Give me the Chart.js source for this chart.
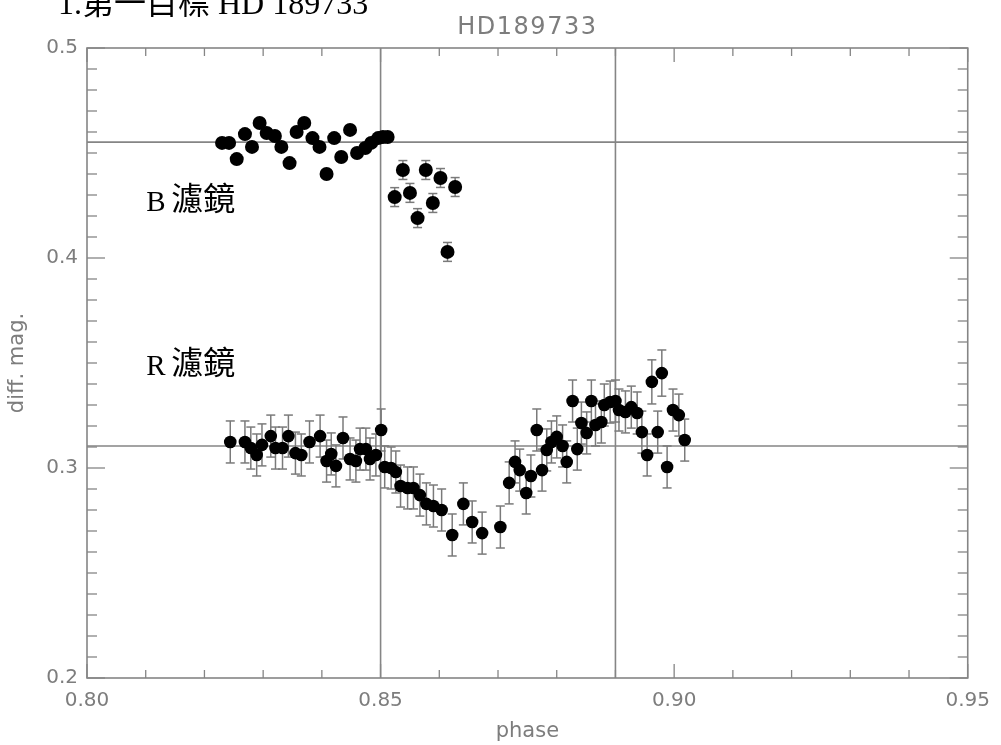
<!DOCTYPE html>
<html>
<head>
<meta charset="utf-8">
<title>HD189733</title>
<script src="https://cdn.jsdelivr.net/npm/chart.js@4/dist/chart.umd.min.js"></script>
<style>
  html, body { margin:0; padding:0; background:#fff; }
  #wrap { position:relative; width:1001px; height:745px; }
</style>
</head>
<body>
<div id="wrap"><canvas id="lc" width="1001" height="745"></canvas></div>
<script>
// B filter light curve
const bPhase = [0.8230, 0.8242, 0.8255, 0.8269, 0.8281, 0.8294, 0.8306, 0.8320, 0.8331, 0.8345,
  0.8357, 0.8370, 0.8384, 0.8396, 0.8408, 0.8421, 0.8433, 0.8448, 0.8460, 0.8474,
  0.8484, 0.8496, 0.8504, 0.8512, 0.8524, 0.8538, 0.8550, 0.8563, 0.8577, 0.8589,
  0.8602, 0.8614, 0.8627];
const bMag = [0.4548, 0.4548, 0.4471, 0.4590, 0.4529, 0.4643, 0.4595, 0.4581, 0.4529, 0.4452,
  0.4600, 0.4643, 0.4571, 0.4529, 0.4400, 0.4571, 0.4481, 0.4610, 0.4500, 0.4524,
  0.4548, 0.4571, 0.4576, 0.4576, 0.4290, 0.4419, 0.4310, 0.4190, 0.4419, 0.4262,
  0.4381, 0.4029, 0.4338];
const bErr = [0.002, 0.002, 0.002, 0.002, 0.002, 0.002, 0.002, 0.002, 0.002, 0.002,
  0.002, 0.002, 0.002, 0.002, 0.002, 0.002, 0.002, 0.002, 0.002, 0.002,
  0.002, 0.002, 0.002, 0.002, 0.0045, 0.0045, 0.0045, 0.0045, 0.0045, 0.0045,
  0.0045, 0.0045, 0.0045];

// R filter light curve
const rPhase = [0.8244, 0.8269, 0.8279, 0.8289, 0.8298, 0.8313, 0.8321, 0.8333, 0.8343, 0.8355,
  0.8365, 0.8379, 0.8397, 0.8408, 0.8416, 0.8424, 0.8436, 0.8448, 0.8458, 0.8465,
  0.8475, 0.8482, 0.8492, 0.8501, 0.8507, 0.8518, 0.8526, 0.8534, 0.8546, 0.8556,
  0.8567, 0.8578, 0.8590, 0.8604, 0.8622, 0.8641, 0.8656, 0.8673, 0.8704, 0.8719,
  0.8729, 0.8737, 0.8748, 0.8756, 0.8766, 0.8775, 0.8783, 0.8791, 0.8800, 0.8810,
  0.8817, 0.8827, 0.8835, 0.8842, 0.8851, 0.8859, 0.8866, 0.8876, 0.8881, 0.8891,
  0.8900, 0.8906, 0.8917, 0.8927, 0.8937, 0.8945, 0.8954, 0.8962, 0.8972, 0.8979,
  0.8988, 0.8998, 0.9008, 0.9018];
const rMag = [0.3124, 0.3124, 0.3095, 0.3062, 0.3110, 0.3152, 0.3095, 0.3095, 0.3152, 0.3071,
  0.3062, 0.3124, 0.3152, 0.3033, 0.3067, 0.3010, 0.3143, 0.3043, 0.3033, 0.3090,
  0.3090, 0.3043, 0.3062, 0.3181, 0.3005, 0.3000, 0.2981, 0.2914, 0.2905, 0.2905,
  0.2871, 0.2829, 0.2819, 0.2800, 0.2681, 0.2829, 0.2743, 0.2690, 0.2719, 0.2929,
  0.3029, 0.2990, 0.2881, 0.2962, 0.3181, 0.2990, 0.3086, 0.3124, 0.3148, 0.3105,
  0.3029, 0.3319, 0.3090, 0.3214, 0.3167, 0.3319, 0.3205, 0.3219, 0.3300, 0.3314,
  0.3319, 0.3276, 0.3267, 0.3290, 0.3262, 0.3171, 0.3062, 0.3410, 0.3171, 0.3452,
  0.3005, 0.3276, 0.3252, 0.3133];
const rErr = [0.010, 0.010, 0.010, 0.010, 0.010, 0.010, 0.010, 0.010, 0.010, 0.010,
  0.010, 0.010, 0.010, 0.010, 0.010, 0.010, 0.010, 0.010, 0.010, 0.010,
  0.010, 0.010, 0.010, 0.010, 0.010, 0.010, 0.010, 0.010, 0.010, 0.010,
  0.010, 0.010, 0.010, 0.010, 0.010, 0.010, 0.010, 0.010, 0.010, 0.010,
  0.010, 0.010, 0.010, 0.010, 0.010, 0.010, 0.010, 0.010, 0.010, 0.010,
  0.010, 0.010, 0.010, 0.010, 0.010, 0.010, 0.010, 0.010, 0.010, 0.010,
  0.010, 0.010, 0.010, 0.010, 0.010, 0.010, 0.010, 0.0105, 0.010, 0.011,
  0.010, 0.010, 0.010, 0.010];

// reference lines (phase marks and mean level of each filter)
const refPhase = [0.85, 0.89];
const refMag = [0.4552, 0.3105];

const GRAY = '#858585';
const TXT = '#7d7d7d';

function pts(xs, ys, es) {
  return xs.map((x, i) => ({ x: x, y: ys[i], e: es[i] }));
}

function seg(ctx, x1, y1, x2, y2) {
  ctx.beginPath(); ctx.moveTo(x1, y1); ctx.lineTo(x2, y2); ctx.stroke();
}

// filter name: latin letter in serif, then the CJK word a bit larger
function filterLabel(ctx, letter, px, py) {
  ctx.font = '29px "Liberation Serif"';
  ctx.fillText(letter, px, py);
  ctx.font = '32px "Noto Sans CJK TC"';
  ctx.fillText('濾鏡', px + 25, py - 1);
}

const decor = {
  id: 'decor',
  beforeDatasetsDraw(chart) {
    const { ctx, chartArea: a, scales: { x, y } } = chart;
    ctx.save();
    ctx.strokeStyle = GRAY;
    ctx.lineWidth = 1.6;

    refPhase.forEach(p => { const px = x.getPixelForValue(p); seg(ctx, px, a.top, px, a.bottom); });
    refMag.forEach(m => { const py = y.getPixelForValue(m); seg(ctx, a.left, py, a.right, py); });

    // frame + inward ticks
    ctx.strokeRect(a.left, a.top, a.right - a.left, a.bottom - a.top);
    ctx.lineWidth = 1.3;
    for (let i = 0; i <= 15; i++) {
      const px = x.getPixelForValue(0.80 + i * 0.01);
      const len = i % 5 === 0 ? 14 : 8;
      seg(ctx, px, a.bottom, px, a.bottom - len);
      seg(ctx, px, a.top, px, a.top + len);
    }
    for (let i = 0; i <= 30; i++) {
      const py = y.getPixelForValue(0.20 + i * 0.01);
      const len = i % 10 === 0 ? 18 : 10;
      seg(ctx, a.left, py, a.left + len, py);
      seg(ctx, a.right, py, a.right - len, py);
    }

    // error bars, under the markers
    ctx.strokeStyle = '#7a7a7a';
    ctx.lineWidth = 1.5;
    chart.data.datasets.forEach(ds => {
      ds.data.forEach(p => {
        const px = x.getPixelForValue(p.x);
        const hi = y.getPixelForValue(p.y + p.e);
        const lo = y.getPixelForValue(p.y - p.e);
        seg(ctx, px, hi, px, lo);
        seg(ctx, px - 4.5, hi, px + 4.5, hi);
        seg(ctx, px - 4.5, lo, px + 4.5, lo);
      });
    });
    ctx.restore();
  },
  afterDraw(chart) {
    const { ctx, chartArea: a, scales: { x, y } } = chart;
    ctx.save();
    ctx.fillStyle = TXT;
    ctx.font = '24px "DejaVu Sans"';
    ctx.letterSpacing = '1.5px';
    ctx.textAlign = 'center';
    ctx.textBaseline = 'middle';
    ctx.fillText('HD189733', (a.left + a.right) / 2, 28);
    ctx.letterSpacing = '0px';

    ctx.fillStyle = '#000';
    ctx.textAlign = 'left';
    ctx.textBaseline = 'alphabetic';
    filterLabel(ctx, 'B', x.getPixelForValue(0.8101), y.getPixelForValue(0.4224));
    filterLabel(ctx, 'R', x.getPixelForValue(0.8101), y.getPixelForValue(0.3443));

    ctx.font = '32px "Liberation Serif", "Noto Sans CJK TC"';
    ctx.fillText('1.第一目標 HD 189733', 58, 14);
    ctx.restore();
  }
};

new Chart(document.getElementById('lc'), {
  type: 'scatter',
  data: {
    datasets: [
      { label: 'B', data: pts(bPhase, bMag, bErr), backgroundColor: '#000', borderWidth: 0, pointRadius: 7 },
      { label: 'R', data: pts(rPhase, rMag, rErr), backgroundColor: '#000', borderWidth: 0, pointRadius: 6.3 }
    ]
  },
  plugins: [decor],
  options: {
    responsive: false,
    animation: false,
    devicePixelRatio: 1,
    layout: { padding: { top: 48, right: 27, left: 0, bottom: 0 } },
    plugins: { legend: { display: false }, tooltip: { enabled: false } },
    scales: {
      x: {
        type: 'linear', min: 0.80, max: 0.95,
        afterFit(s) { s.height = 67; },
        grid: { display: false, drawTicks: false },
        border: { display: false },
        ticks: {
          stepSize: 0.05, padding: 11, color: TXT,
          font: { family: 'DejaVu Sans', size: 20 },
          callback: v => v.toFixed(2)
        },
        title: { display: true, text: 'phase', color: TXT, font: { family: 'DejaVu Sans', size: 21 }, padding: { top: 0, bottom: 1 } }
      },
      y: {
        min: 0.2, max: 0.5,
        afterFit(s) { s.width = 87; },
        grid: { display: false, drawTicks: false },
        border: { display: false },
        ticks: {
          stepSize: 0.1, padding: 9, color: TXT,
          font: { family: 'DejaVu Sans', size: 20 },
          callback: v => v.toFixed(1)
        },
        title: { display: true, text: 'diff. mag.', color: TXT, font: { family: 'DejaVu Sans', size: 21 }, padding: { top: 5, bottom: 0 } }
      }
    }
  }
});
</script>
</body>
</html>
